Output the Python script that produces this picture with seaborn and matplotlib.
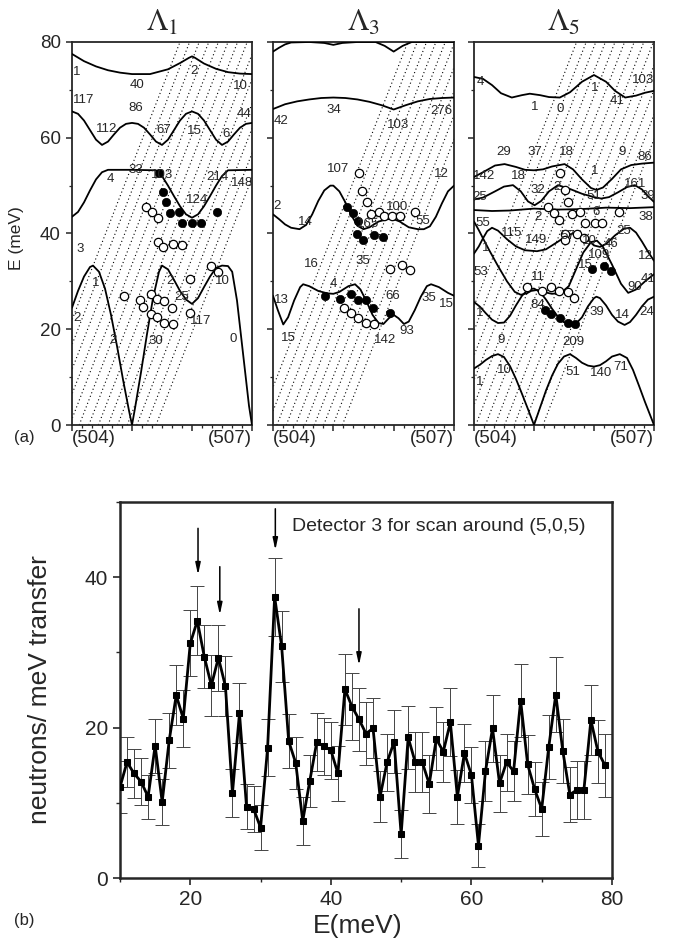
"""Phonon dispersion along (50L) with scan band, plus detector-3 energy scan."""

import matplotlib
matplotlib.use("Agg")
import matplotlib.pyplot as plt
import matplotlib.ticker as mticker
import pandas as pd
import seaborn as sns

# ---------------- panel (a): dispersion curves, (x in r.l.u. steps from (504), E in meV)
P1_CURVES = [
    [(0, 77.5), (0.2, 76.0), (0.4, 74.9), (0.6, 74.1), (0.8, 73.6), (1.0, 73.3), (1.3, 73.3),
     (1.6, 74.3), (1.8, 75.6), (1.95, 76.7), (2.0, 77.0), (2.05, 76.7), (2.2, 75.5), (2.4, 74.4),
     (2.6, 73.7), (2.8, 73.4), (3.0, 73.3)],
    [(0, 65.5), (0.1, 65.0), (0.2, 63.6), (0.3, 61.6), (0.4, 59.6), (0.5, 58.5), (0.6, 59.2),
     (0.7, 60.7), (0.8, 62.1), (0.9, 62.9), (1.0, 63.1), (1.1, 62.9), (1.2, 62.1), (1.3, 60.7),
     (1.4, 59.2), (1.5, 58.5), (1.6, 59.6), (1.7, 61.6), (1.8, 63.6), (1.9, 65.0), (2.0, 65.5),
     (2.1, 65.0), (2.2, 63.6), (2.3, 61.6), (2.4, 59.6), (2.5, 58.5), (2.6, 59.2), (2.7, 60.7),
     (2.8, 62.1), (2.9, 62.9), (3.0, 63.1)],
    [(0, 43.5), (0.1, 44.5), (0.2, 46.5), (0.3, 49.0), (0.4, 51.3), (0.5, 52.8), (0.6, 53.3),
     (1.0, 53.3), (1.4, 53.2), (1.5, 52.0), (1.6, 50.0), (1.7, 47.8), (1.8, 45.7), (1.9, 44.0),
     (2.0, 43.3), (2.1, 44.0), (2.2, 45.7), (2.3, 47.8), (2.4, 50.0), (2.5, 52.0), (2.6, 53.2),
     (3.0, 53.3)],
    [(0, 24.5), (0.1, 28.0), (0.2, 31.0), (0.3, 33.0), (0.35, 33.3), (0.45, 32.0), (0.55, 28.5),
     (0.65, 23.0), (0.75, 16.5), (0.85, 9.5), (0.95, 3.0), (1.0, 0.0), (1.05, 3.5), (1.15, 11.0),
     (1.25, 19.0), (1.35, 26.5), (1.45, 32.0), (1.5, 33.3), (1.6, 32.5), (1.7, 30.3), (1.8, 28.0),
     (1.9, 26.2), (2.0, 25.3), (2.1, 26.5), (2.2, 28.8), (2.3, 31.0), (2.4, 32.8), (2.5, 33.3),
     (2.6, 33.2), (2.67, 32.0), (2.75, 26.0), (2.85, 15.0), (2.95, 4.0), (3.0, 0.0)],
]
P2_CURVES = [
    [(0, 78.0), (0.1, 78.8), (0.2, 79.5), (0.3, 79.9), (0.6, 80.0), (0.85, 79.8), (1.0, 79.4),
     (1.15, 79.8), (1.4, 80.0), (1.7, 80.0), (1.85, 79.2), (2.0, 78.0), (2.15, 79.2), (2.3, 80.0),
     (3.0, 80.0)],
    [(0, 66.0), (0.2, 67.0), (0.4, 67.6), (0.6, 68.0), (0.8, 68.3), (1.0, 68.4), (1.2, 68.3),
     (1.4, 68.0), (1.6, 67.5), (1.8, 66.8), (2.0, 65.9), (2.2, 66.8), (2.4, 67.6), (2.6, 68.1),
     (2.8, 68.3), (3.0, 68.4)],
    [(0, 44.0), (0.1, 43.0), (0.2, 41.9), (0.3, 41.2), (0.44, 40.9), (0.55, 41.8), (0.65, 44.0),
     (0.75, 46.8), (0.85, 49.0), (0.95, 50.0), (1.0, 50.0), (1.1, 48.8), (1.2, 46.5), (1.3, 43.8),
     (1.4, 41.6), (1.5, 40.9), (1.6, 41.3), (1.75, 42.5), (1.9, 43.0), (2.0, 43.0), (2.1, 42.5),
     (2.25, 41.3), (2.4, 40.9), (2.5, 40.9), (2.6, 41.5), (2.7, 43.5), (2.8, 46.3), (2.9, 48.8),
     (3.0, 50.0)],
    [(0, 27.0), (0.08, 24.0), (0.17, 21.0), (0.25, 22.5), (0.35, 26.0), (0.45, 28.8), (0.5, 29.4),
     (0.6, 29.0), (0.75, 28.0), (0.9, 27.5), (1.0, 27.4), (1.1, 27.8), (1.25, 29.0), (1.36, 29.4),
     (1.45, 28.3), (1.55, 25.8), (1.65, 23.0), (1.75, 21.3), (1.83, 21.1), (1.92, 22.3), (2.0, 23.0),
     (2.08, 22.3), (2.17, 21.1), (2.25, 21.6), (2.35, 24.0), (2.45, 26.8), (2.55, 29.0), (2.62, 29.4),
     (2.75, 28.8), (2.9, 27.6), (3.0, 27.0)],
]
P3_CURVES = [
    [(0, 72.7), (0.15, 72.3), (0.3, 71.0), (0.45, 69.3), (0.63, 68.4), (0.8, 68.9), (0.93, 69.2),
     (1.1, 68.9), (1.25, 68.5), (1.43, 68.4), (1.6, 69.5), (1.8, 71.7), (2.0, 73.1), (2.2, 71.7),
     (2.35, 69.8), (2.52, 68.4), (2.7, 68.8), (2.85, 69.4), (3.0, 69.8)],
    [(0, 51.8), (0.15, 52.8), (0.35, 54.2), (0.51, 54.5), (0.7, 53.9), (0.85, 53.3), (1.0, 53.2),
     (1.15, 53.4), (1.3, 54.0), (1.51, 54.5), (1.65, 53.4), (1.8, 51.3), (1.95, 49.5), (2.04, 49.1),
     (2.15, 49.6), (2.3, 51.4), (2.45, 53.4), (2.62, 54.3), (2.8, 54.6), (3.0, 54.8)],
    [(0, 47.1), (0.15, 47.5), (0.35, 48.8), (0.5, 49.8), (0.65, 50.1), (0.78, 48.8), (0.9, 46.7),
     (1.01, 45.9), (1.12, 46.8), (1.25, 48.8), (1.4, 50.1), (1.6, 49.3), (1.8, 48.3), (2.0, 47.6),
     (2.12, 47.3), (2.25, 47.6), (2.4, 48.6), (2.55, 49.7), (2.68, 50.1), (2.8, 49.2), (2.9, 47.8),
     (3.0, 46.6)],
    [(0, 44.9), (0.3, 44.7), (0.6, 44.8), (1.0, 45.2), (1.4, 45.0), (1.8, 45.1), (2.2, 45.4),
     (2.6, 45.3), (3.0, 45.5)],
    [(0, 42.5), (0.08, 40.7), (0.15, 39.0), (0.25, 36.6), (0.4, 33.2), (0.55, 30.0), (0.68, 27.8),
     (0.78, 27.2), (0.88, 27.5), (0.95, 28.0), (1.05, 28.2), (1.15, 27.8), (1.3, 27.4), (1.45, 27.6),
     (1.58, 29.0), (1.7, 32.5), (1.82, 36.0), (1.95, 38.2), (2.05, 38.5), (2.15, 37.2), (2.3, 33.5),
     (2.45, 29.5), (2.57, 27.6), (2.7, 28.3), (2.85, 30.0), (3.0, 31.5)],
    [(0, 35.8), (0.08, 37.3), (0.15, 39.0), (0.22, 40.5), (0.3, 41.2), (0.4, 40.6), (0.55, 38.8),
     (0.7, 37.3), (0.85, 36.5), (1.05, 36.3), (1.2, 36.7), (1.4, 38.3), (1.55, 39.6), (1.7, 40.2),
     (1.85, 39.2), (2.0, 37.5), (2.1, 37.2), (2.2, 37.8), (2.35, 39.6), (2.5, 41.0), (2.6, 41.2),
     (2.7, 40.2), (2.8, 38.3), (2.9, 36.2), (3.0, 34.3)],
    [(0, 25.7), (0.1, 24.7), (0.2, 23.3), (0.3, 22.0), (0.4, 21.3), (0.5, 21.4), (0.6, 22.8),
     (0.7, 25.0), (0.8, 27.0), (0.9, 28.3), (1.0, 28.5), (1.1, 27.8), (1.2, 26.2), (1.3, 24.3),
     (1.4, 22.6), (1.5, 21.5), (1.6, 21.0), (1.68, 20.9), (1.8, 22.5), (1.9, 24.8), (2.0, 26.5),
     (2.04, 26.8), (2.1, 26.5), (2.2, 25.0), (2.3, 23.0), (2.4, 21.6), (2.51, 20.9), (2.6, 21.5),
     (2.7, 23.0), (2.8, 24.8), (2.9, 26.2), (3.0, 26.8)],
    [(0, 11.8), (0.1, 12.6), (0.2, 13.6), (0.3, 14.4), (0.4, 14.8), (0.5, 14.2), (0.6, 12.3),
     (0.7, 9.6), (0.8, 6.5), (0.9, 3.3), (1.0, 0.0), (1.1, 3.6), (1.2, 7.2), (1.3, 10.3), (1.4, 12.8),
     (1.5, 14.3), (1.6, 14.8), (1.7, 14.0), (1.8, 13.0), (1.9, 12.4), (2.0, 12.2), (2.1, 12.5),
     (2.2, 13.3), (2.3, 14.3), (2.43, 14.8), (2.55, 14.0), (2.65, 11.5), (2.75, 8.2), (2.85, 4.8),
     (2.95, 1.6), (3.0, 0.0)],
]

P1_LABELS = [("1", 0.08, 73.8), ("40", 1.08, 71.0), ("2", 2.04, 73.9), ("10", 2.80, 70.8),
             ("117", 0.19, 67.8), ("86", 1.06, 66.3), ("44", 2.86, 64.9), ("112", 0.57, 61.9),
             ("67", 1.53, 61.7), ("15", 2.04, 61.5), ("6", 2.57, 60.8), ("33", 1.07, 53.3),
             ("103", 1.50, 52.3), ("214", 2.42, 51.9), ("148", 2.84, 50.6), ("4", 0.64, 51.4),
             ("124", 2.08, 46.9), ("3", 0.13, 36.7), ("1", 0.39, 29.7), ("2", 1.64, 30.1),
             ("25", 1.83, 26.7), ("10", 2.50, 30.1), ("2", 0.09, 22.4), ("117", 2.14, 21.7),
             ("2", 0.68, 17.8), ("30", 1.39, 17.5), ("0", 2.69, 18.0)]
P2_LABELS = [("34", 1.00, 65.7), ("42", 0.14, 63.6), ("276", 2.79, 65.5), ("103", 2.07, 62.6),
             ("107", 1.08, 53.5), ("12", 2.79, 52.4), ("2", 0.06, 45.8), ("14", 0.53, 42.3),
             ("100", 2.05, 45.5), ("55", 2.49, 42.7), ("165", 1.58, 42.0), ("16", 0.63, 33.6),
             ("35", 1.49, 34.3), ("4", 1.00, 29.4), ("13", 0.14, 26.2), ("66", 1.99, 26.9),
             ("35", 2.59, 26.6), ("15", 2.88, 25.2), ("15", 0.25, 18.2), ("142", 1.85, 17.8),
             ("93", 2.21, 19.6)]
P3_LABELS = [("4", 0.10, 71.7), ("1", 1.02, 66.4), ("0", 1.43, 66.1), ("1", 2.02, 70.3),
             ("103", 2.82, 72.0), ("41", 2.38, 67.7), ("29", 0.49, 57.0), ("37", 1.02, 57.0),
             ("18", 1.54, 57.0), ("9", 2.46, 57.0), ("86", 2.85, 55.9), ("142", 0.16, 52.1),
             ("18", 0.74, 52.1), ("1", 2.02, 53.1), ("161", 2.68, 50.3), ("25", 0.10, 47.6),
             ("32", 1.07, 49.0), ("2", 1.38, 49.7), ("51", 1.99, 47.9), ("39", 2.90, 47.9),
             ("2", 1.07, 43.5), ("6", 2.04, 44.5), ("38", 2.87, 43.5), ("55", 0.15, 42.1),
             ("115", 0.62, 40.0), ("149", 1.04, 38.6), ("57", 1.57, 39.5), ("10", 1.93, 38.5),
             ("46", 2.29, 37.9), ("25", 2.49, 40.6), ("1", 0.20, 37.0), ("53", 0.12, 32.0),
             ("11", 1.07, 31.0), ("15", 1.85, 33.5), ("109", 2.08, 35.6), ("12", 2.85, 35.2),
             ("90", 2.68, 28.9), ("41", 2.90, 30.6), ("84", 1.07, 25.0), ("39", 2.04, 23.6),
             ("14", 2.48, 23.0), ("24", 2.87, 23.6), ("1", 0.10, 23.3), ("9", 0.45, 17.7),
             ("209", 1.65, 17.4), ("1", 0.10, 9.0), ("10", 0.51, 11.5), ("51", 1.65, 11.1),
             ("140", 2.12, 10.8), ("71", 2.45, 12.2)]

P1_OPEN = [(1.23, 45.5), (1.33, 44.4), (1.43, 43.2), (1.44, 38.2), (1.52, 37.2), (1.68, 37.9),
           (1.83, 37.5), (0.87, 26.9), (1.13, 26.1), (1.19, 24.6), (1.32, 23.1), (1.31, 27.3),
           (1.42, 26.4), (1.54, 26.0), (1.66, 24.5), (1.42, 22.5), (1.54, 21.3), (1.68, 21.0),
           (1.96, 23.4), (1.96, 30.4), (2.32, 33.2), (2.44, 32.0)]
P1_FILLED = [(1.45, 52.6), (1.51, 48.6), (1.56, 46.5), (1.63, 44.3), (1.79, 44.5), (1.84, 42.2),
             (2.00, 42.1), (2.15, 42.1), (2.42, 44.5)]
P2_OPEN = [(1.43, 52.6), (1.48, 48.8), (1.55, 46.5), (1.62, 44.1), (1.76, 44.4), (1.84, 43.7),
           (1.98, 43.7), (2.11, 43.7), (2.36, 44.4), (1.94, 32.5), (2.14, 33.4), (2.27, 32.3),
           (1.18, 24.5), (1.29, 23.4), (1.41, 22.4), (1.54, 21.3), (1.68, 21.1)]
P2_FILLED = [(1.22, 45.5), (1.33, 44.3), (1.41, 42.7), (1.40, 39.9), (1.49, 38.7), (1.68, 39.7),
             (1.82, 39.2), (0.86, 26.9), (1.11, 26.4), (1.29, 27.3), (1.41, 26.2), (1.54, 26.1),
             (1.65, 24.5), (1.94, 23.4)]
P3_OPEN = [(1.43, 52.6), (1.51, 49.1), (1.57, 46.5), (1.24, 45.5), (1.34, 44.3), (1.42, 42.8),
           (1.63, 44.1), (1.77, 44.4), (2.41, 44.4), (1.85, 42.1), (2.02, 42.1), (2.14, 42.1),
           (1.52, 39.9), (1.51, 38.6), (1.71, 39.9), (1.83, 39.0), (0.88, 28.8), (1.13, 28.0),
           (1.29, 28.8), (1.42, 28.0), (1.56, 27.8), (1.67, 26.6)]
P3_FILLED = [(1.96, 32.5), (2.16, 33.2), (2.29, 32.2), (1.18, 24.1), (1.29, 23.1), (1.43, 22.4),
             (1.56, 21.3), (1.68, 21.1)]

# scan band: dotted lines, x-intercept at E = 0 and common slope (x per meV)
BAND_SLOPE = 0.031
P1_BAND_Q0 = [1.40, 1.24, 1.08, 0.92, 0.76, 0.60, 0.44, 0.28, 0.12, -0.04, -0.20, -0.36, -0.52, -0.68]
P2_BAND_Q0 = [1.15, 0.995, 0.84, 0.685, 0.53, 0.375, 0.22, 0.065, -0.09, -0.245]
P3_BAND_Q0 = [1.15, 0.99, 0.83, 0.67, 0.51, 0.35, 0.19, 0.03, -0.13, -0.29, -0.45, -0.61, -0.77]

PANEL_TITLES = [r"$\Lambda_1$", r"$\Lambda_3$", r"$\Lambda_5$"]

# ---------------- panel (b): energy scan
E_BINS = [10, 11, 12, 13, 14, 15, 16, 17, 18, 19, 20, 21, 22, 23, 24, 25, 26, 27, 28, 29,
          30, 31, 32, 33, 34, 35, 36, 37, 38, 39, 40, 41, 42, 43, 44, 45, 46, 47, 48, 49,
          50, 51, 52, 53, 54, 55, 56, 57, 58, 59, 60, 61, 62, 63, 64, 65, 66, 67, 68, 69,
          70, 71, 72, 73, 74, 75, 76, 77, 78, 79]
COUNTS = [12.1, 15.4, 13.9, 12.8, 10.8, 17.6, 10.1, 18.3, 24.3, 21.2,
          31.2, 34.2, 29.4, 25.6, 29.3, 25.5, 11.3, 21.9, 9.5, 9.2,
          6.7, 17.3, 37.4, 30.8, 18.2, 15.3, 7.6, 12.9, 18.1, 17.5,
          17.0, 13.9, 25.1, 22.8, 21.1, 19.2, 19.9, 10.8, 15.4, 18.1,
          5.8, 18.7, 15.4, 15.4, 12.5, 18.5, 16.8, 20.7, 10.8, 16.6,
          13.7, 4.3, 14.2, 19.9, 12.6, 15.4, 14.2, 23.6, 15.1, 11.8,
          9.2, 17.4, 24.4, 16.9, 11.1, 11.7, 11.7, 21.0, 16.8, 15.0]
ERRORS = [3.5, 3.3, 3.2, 3.1, 2.9, 3.6, 3.1, 3.7, 4.0, 3.8,
          4.4, 4.6, 4.2, 4.0, 4.4, 4.0, 3.2, 4.0, 3.0, 3.1,
          3.0, 3.8, 5.2, 4.7, 3.6, 3.5, 3.2, 3.5, 3.9, 3.8,
          3.8, 3.7, 4.7, 4.4, 4.2, 4.2, 4.0, 3.4, 3.8, 4.2,
          3.2, 4.2, 4.0, 4.0, 3.8, 4.2, 4.0, 4.5, 3.6, 3.9,
          3.7, 2.9, 4.0, 4.5, 3.8, 3.8, 4.0, 4.9, 3.9, 3.6,
          3.6, 4.3, 5.0, 4.3, 3.7, 3.8, 3.8, 4.7, 4.2, 4.2]
ARROW_X = [21.1, 24.2, 32.1, 44.0]
ARROW_TOP = [46.5, 41.4, 49.1, 35.8]
ARROW_TIP = [40.3, 35.0, 43.6, 28.3]

sns.set_style("ticks")
plt.rcParams["font.family"] = ["Liberation Sans", "DejaVu Sans"]
plt.rcParams["mathtext.fontset"] = "stix"
plt.rcParams["axes.linewidth"] = 1.3

W, H = 673, 941
fig = plt.figure(figsize=(W / 100, H / 100), dpi=100)


def fig_rect(left, top, right, bottom):
    return [left / W, 1 - bottom / H, (right - left) / W, (bottom - top) / H]


def draw_panel(ax, curves, labels, open_pts, filled_pts, band_q0, title, first):
    for q0 in band_q0:
        band = pd.DataFrame({"x": [q0, q0 + BAND_SLOPE * 80], "E": [0, 80]})
        ax.plot(band["x"], band["E"], color="black", lw=0.8, ls=(0, (1.0, 2.4)), zorder=1)
    for pts in curves:
        df = pd.DataFrame(pts, columns=["x", "E"])
        sns.lineplot(data=df, x="x", y="E", sort=False, estimator=None, color="black",
                     lw=1.3, ax=ax, zorder=3)
    for text, x, e in labels:
        ax.text(x, e, text, ha="center", va="center", fontsize=9.5, zorder=5)
    op = pd.DataFrame(open_pts, columns=["x", "E"])
    sns.scatterplot(data=op, x="x", y="E", marker="o", s=36, facecolor="white",
                    edgecolor="black", linewidth=0.9, ax=ax, zorder=4)
    fp = pd.DataFrame(filled_pts, columns=["x", "E"])
    sns.scatterplot(data=fp, x="x", y="E", marker="o", s=36, color="black",
                    edgecolor="black", linewidth=0.5, ax=ax, zorder=4)

    ax.set_xlim(0, 3)
    ax.set_ylim(0, 80)
    ax.set_xticks([0, 1, 2, 3])
    ax.set_xticklabels([])
    ax.xaxis.set_minor_locator(mticker.MultipleLocator(1 / 6))
    ax.set_yticks([0, 20, 40, 60, 80])
    ax.yaxis.set_minor_locator(mticker.MultipleLocator(10))
    ax.tick_params(which="major", direction="out", length=4.5, width=1.1, labelsize=13.5)
    ax.tick_params(which="minor", direction="out", length=2.5, width=0.9)
    if not first:
        ax.set_yticklabels([])
    ax.set_xlabel("")
    ax.set_ylabel("")
    ax.text(0.0, -0.013, "(504)", transform=ax.transAxes, ha="left", va="top", fontsize=13.5)
    ax.text(1.0, -0.013, "(507)", transform=ax.transAxes, ha="right", va="top", fontsize=13.5)
    ax.text(0.5, 1.03, title, transform=ax.transAxes, ha="center", va="baseline",
            fontsize=22)


panels = [
    (fig_rect(72, 42, 252, 425), P1_CURVES, P1_LABELS, P1_OPEN, P1_FILLED, P1_BAND_Q0),
    (fig_rect(273, 42, 454, 425), P2_CURVES, P2_LABELS, P2_OPEN, P2_FILLED, P2_BAND_Q0),
    (fig_rect(474, 42, 654, 425), P3_CURVES, P3_LABELS, P3_OPEN, P3_FILLED, P3_BAND_Q0),
]
for i, (rect, curves, labels, op, fp, q0) in enumerate(panels):
    ax = fig.add_axes(rect)
    draw_panel(ax, curves, labels, op, fp, q0, PANEL_TITLES[i], i == 0)

fig.text(17 / W, 1 - 238 / H, "E (meV)", rotation=90, ha="center", va="center", fontsize=12.5)
fig.text(14 / W, 1 - 437 / H, "(a)", ha="left", va="center", fontsize=12)

# ---------------- bottom panel
axb = fig.add_axes(fig_rect(120, 502, 612, 878))
axb.errorbar(E_BINS, COUNTS, yerr=ERRORS, fmt="none", ecolor="#444444", elinewidth=0.7,
             capsize=5, capthick=0.7, zorder=2)
scan = pd.DataFrame({"E": E_BINS, "counts": COUNTS})
sns.lineplot(data=scan, x="E", y="counts", color="black", lw=2.0, marker="s", markersize=5,
             markeredgecolor="black", markerfacecolor="black", ax=axb, zorder=3)
for x, top, tip in zip(ARROW_X, ARROW_TOP, ARROW_TIP):
    axb.annotate("", xy=(x, tip), xytext=(x, top),
                 arrowprops=dict(arrowstyle="-|>,head_length=0.7,head_width=0.15",
                                 color="black", lw=1.1, shrinkA=0, shrinkB=0))
axb.text(34.5, 46.7, "Detector 3 for scan around (5,0,5)", ha="left", va="center", fontsize=14)
axb.set_xlim(10, 80)
axb.set_ylim(0, 50)
axb.set_xticks([20, 40, 60, 80])
axb.xaxis.set_minor_locator(mticker.MultipleLocator(10))
axb.set_yticks([0, 20, 40])
axb.yaxis.set_minor_locator(mticker.MultipleLocator(10))
axb.tick_params(which="major", direction="out", length=5, width=1.2, labelsize=15)
axb.tick_params(which="minor", direction="out", length=3, width=1.0)
for side in axb.spines.values():
    side.set_linewidth(1.8)
axb.set_xlabel("")
axb.set_ylabel("")
fig.text(40 / W, 1 - 690 / H, "neutrons/ meV transfer", rotation=90, ha="center", va="center",
         fontsize=19)
fig.text(358 / W, 1 - 926 / H, "E(meV)", ha="center", va="center", fontsize=19)
fig.text(14 / W, 1 - 920 / H, "(b)", ha="left", va="center", fontsize=12)

fig.savefig("out.png", dpi=100)
